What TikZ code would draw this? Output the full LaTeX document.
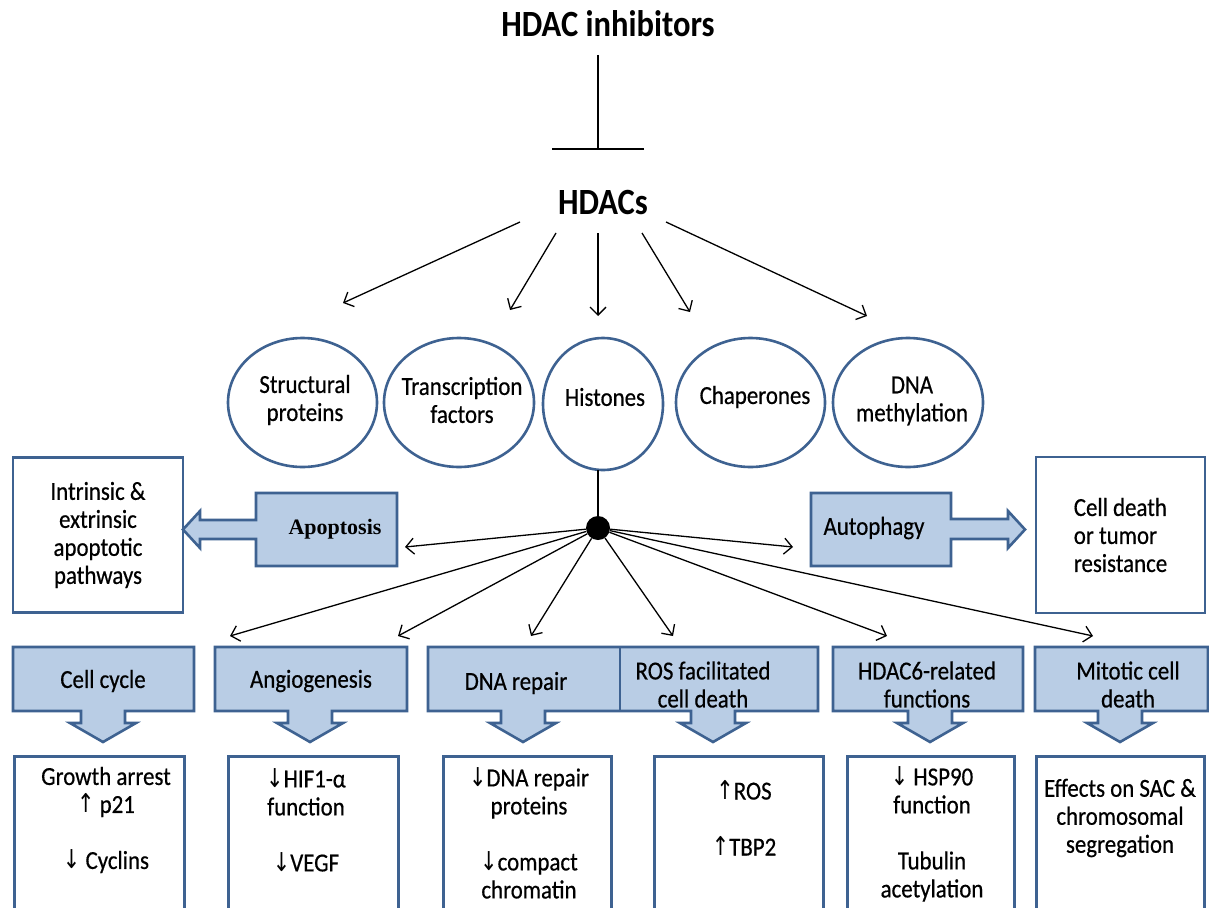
\documentclass[tikz,border=0pt]{standalone}
\usepackage{fontspec}
\setmainfont{Carlito}[FakeStretch=0.88, UprightFeatures={FakeBold=0.5}]
\newfontfamily\serifbold{Liberation Serif}
\newfontfamily\arrowfont{DejaVu Sans}[FakeStretch=0.8]
\usetikzlibrary{arrows.meta}
\definecolor{edge}{RGB}{62,98,145}
\definecolor{fillb}{RGB}{185,205,229}
\newcommand\UP{{\arrowfont ↑}}
\newcommand\DN{{\arrowfont ↓}}
\newcommand\dncallout[3]{\draw[callout] (#1,647) -- (#2,647) -- (#2,711) -- ({#3+22},711) -- ({#3+22},723) -- ({#3+33},723) -- (#3,742) -- ({#3-33},723) -- ({#3-22},723) -- ({#3-22},711) -- (#1,711) -- cycle;}
\begin{document}
\begin{tikzpicture}[x=1pt,y=-1pt,
  body/.style={font=\fontsize{26}{28}\selectfont, align=center, inner sep=0pt},
  title/.style={font=\fontsize{37}{40}\selectfont\bfseries, inner sep=0pt},
  ring/.style={draw=edge, line width=2.6pt},
  wbox/.style={draw=edge, line width=2.6pt, fill=white, body},
  callout/.style={draw=edge, fill=fillb, line width=2.6pt, line join=miter},
  arr/.style={line width=1.3pt, -{Straight Barb[length=8pt,width=16pt,line width=1.3pt]}},
]
\useasboundingbox (0,0) rectangle (1209,907);
\clip (0,0) rectangle (1209,907);
\fill[white] (0,0) rectangle (1209,907);

% top
\node[title] (inh) at (608,24) {HDAC inhibitors};
\node[title] (hdacs) at (603,203) {HDACs};
\coordinate (inhA) at (598,55);
\coordinate (inhB) at (598,150);
\draw[line width=1.5pt, -{Bar[width=92pt,line width=2pt]}] (inhA) -- (inhB);

% substrates
\draw[ring] (302.5,402.5) ellipse [x radius=74.5, y radius=64.5];
\draw[ring] (459,402.5) ellipse [x radius=75, y radius=64.5];
\draw[ring] (603,404) ellipse [x radius=60, y radius=66];
\draw[ring] (750.5,402.5) ellipse [x radius=74.5, y radius=64.5];
\draw[ring] (908,402.5) ellipse [x radius=75, y radius=64.5];
\node[body] (sp) at (305,400) {Structural\\proteins};
\node[body] (tf) at (462,400) {Transcription\\factors};
\node[body] (hi) at (605,397) {Histones};
\node[body] (ch) at (755,397) {Chaperones};
\node[body] (dm) at (912,401) {DNA\\methylation};

\coordinate (s1) at (520,222); \coordinate (t1) at (343,303);
\coordinate (s2) at (556,233); \coordinate (t2) at (510,310);
\coordinate (s3) at (598,233); \coordinate (t3) at (598,316);
\coordinate (s4) at (642,233); \coordinate (t4) at (690,312);
\coordinate (s5) at (666,222); \coordinate (t5) at (867,316);
\foreach \i in {1,...,5} \draw[arr] (s\i) -- (t\i);

% hub
\coordinate (hibot) at (598,470);
\node[circle, fill=black, inner sep=0pt, minimum size=24pt] (dot) at (598,528) {};
\draw[line width=1.3pt] (hibot) -- (dot);

% side boxes
\node[wbox, minimum width=170pt, minimum height=155pt] (intr) at (98,535) {Intrinsic \&\\extrinsic\\apoptotic\\pathways};
\node[wbox, minimum width=169pt, minimum height=156pt, align=left] (cdeath) at (1120.5,535) {Cell death\\or tumor\\resistance};

\draw[callout] (397,493) -- (256,493) -- (256,520) -- (200,520) -- (200,511) -- (183,529.5) -- (200,548) -- (200,539) -- (256,539) -- (256,566) -- (397,566) -- cycle;
\node[font=\fontsize{22}{24}\selectfont\serifbold\bfseries, inner sep=0pt] (apop) at (335,529) {Apoptosis};
\draw[callout] (811,493) -- (951,493) -- (951,519) -- (1008,519) -- (1008,511) -- (1025,529.5) -- (1008,548) -- (1008,539) -- (951,539) -- (951,566) -- (811,566) -- cycle;
\node[body] (auto) at (874,528) {Autophagy};

% bottom callouts
\dncallout{13}{194}{103}
\dncallout{215}{407}{310}
\draw[callout] (428,647) -- (818,647) -- (818,711) -- (735,711) -- (735,723) -- (746,723) -- (713,742) -- (680,723) -- (691,723) -- (691,711) -- (545,711) -- (545,723) -- (556,723) -- (523,742) -- (490,723) -- (501,723) -- (501,711) -- (428,711) -- cycle;
\draw[draw=edge, line width=2.6pt] (620,647) -- (620,711);
\dncallout{833}{1023}{930}
\dncallout{1035}{1208}{1120}

\node[body] (cc) at (103,681) {Cell cycle};
\node[body] (ang) at (311,681) {Angiogenesis};
\node[body] (dna) at (516,683) {DNA repair};
\node[body] (ros) at (703,684.5) {ROS facilitated\\cell death};
\node[body] (h6) at (927,684.5) {HDAC6-related\\functions};
\node[body] (mit) at (1128,684.5) {Mitotic cell\\death};

% hub arrows
\coordinate (e1) at (405,547);
\coordinate (e2) at (793,547);
\coordinate (e3) at (230,636);
\coordinate (e4) at (398,636);
\coordinate (e5) at (531,636);
\coordinate (e6) at (673,636);
\coordinate (e7) at (887,636);
\coordinate (e8) at (1093,636);
\foreach \i in {1,...,8} \draw[arr] (dot) -- (e\i);

% result boxes
\node[wbox, anchor=north west, minimum width=170pt, minimum height=180pt] (gbox) at (13,755) {};
\node[wbox, anchor=north west, minimum width=170pt, minimum height=180pt] (hbox) at (227,755) {};
\node[wbox, anchor=north west, minimum width=168pt, minimum height=180pt] (dbox) at (442,755) {};
\node[wbox, anchor=north west, minimum width=169pt, minimum height=180pt] (rbox) at (653,755) {};
\node[wbox, anchor=north west, minimum width=167pt, minimum height=180pt] (sbox) at (846,755) {};
\node[wbox, anchor=north west, minimum width=168pt, minimum height=180pt] (ebox) at (1035,755) {};

\node[body] (gtxt) at (106,820) {Growth arrest\\\UP\ p21\\[28pt]\DN\ Cyclins};
\node[body] (htxt) at (306,820) {\DN HIF1-α\\function\\[28pt]\DN VEGF};
\node[body] (dtxt) at (529,833) {\DN DNA repair\\proteins\\[28pt]\DN compact\\chromatin};
\node[body] (rtxt) at (744,818) {\UP ROS\\[28pt]\UP TBP2};
\node[body] (stxt) at (932,834) {\DN\ HSP90\\function\\[28pt]Tubulin\\acetylation};
\node[body] (etxt) at (1120,818) {Effects on SAC \&\\chromosomal\\segregation};
\end{tikzpicture}
\end{document}
